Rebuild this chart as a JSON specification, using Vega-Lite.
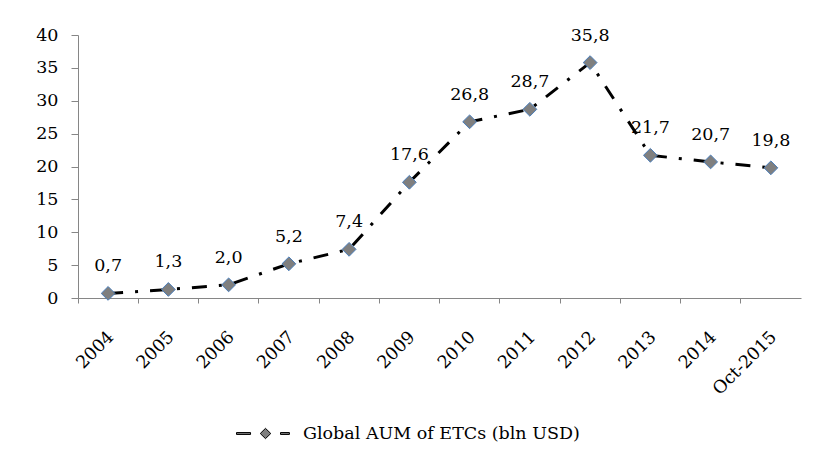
{
  "$schema": "https://vega.github.io/schema/vega-lite/v6.json",
  "width": 723,
  "height": 263,
  "autosize": {"type": "none"},
  "padding": {"left": 78, "top": 35, "right": 13, "bottom": 155},
  "background": "white",
  "config": {
    "view": {"stroke": null},
    "font": "DejaVu Serif",
    "locale": {"number": {"decimal": ",", "thousands": " ", "grouping": [3], "currency": ["", ""]}}
  },
  "data": {
    "values": [
      {"year": "2004", "aum": 0.7, "series": "Global AUM of ETCs (bln USD)"},
      {"year": "2005", "aum": 1.3, "series": "Global AUM of ETCs (bln USD)"},
      {"year": "2006", "aum": 2.0, "series": "Global AUM of ETCs (bln USD)"},
      {"year": "2007", "aum": 5.2, "series": "Global AUM of ETCs (bln USD)"},
      {"year": "2008", "aum": 7.4, "series": "Global AUM of ETCs (bln USD)"},
      {"year": "2009", "aum": 17.6, "series": "Global AUM of ETCs (bln USD)"},
      {"year": "2010", "aum": 26.8, "series": "Global AUM of ETCs (bln USD)"},
      {"year": "2011", "aum": 28.7, "series": "Global AUM of ETCs (bln USD)"},
      {"year": "2012", "aum": 35.8, "series": "Global AUM of ETCs (bln USD)"},
      {"year": "2013", "aum": 21.7, "series": "Global AUM of ETCs (bln USD)"},
      {"year": "2014", "aum": 20.7, "series": "Global AUM of ETCs (bln USD)"},
      {"year": "Oct-2015", "aum": 19.8, "series": "Global AUM of ETCs (bln USD)"}
    ]
  },
  "encoding": {
    "x": {
      "field": "year", "type": "ordinal", "sort": null,
      "scale": {"type": "band", "paddingInner": 0, "paddingOuter": 0},
      "axis": {
        "title": null, "bandPosition": 0, "labelOffset": 3, "labelAngle": -45,
        "labelAlign": "right", "labelBaseline": "middle", "labelPadding": 31,
        "labelFontSize": 17.5, "labelColor": "#000000", "labelFont": "DejaVu Serif",
        "tickSize": 5, "tickColor": "#868686", "domainColor": "#868686",
        "labelOverlap": false, "grid": false
      }
    },
    "y": {
      "field": "aum", "type": "quantitative",
      "scale": {"domain": [0, 40], "nice": false},
      "axis": {
        "title": null, "values": [0, 5, 10, 15, 20, 25, 30, 35, 40], "format": "d",
        "labelFontSize": 17.5, "labelColor": "#000000", "labelFont": "DejaVu Serif",
        "tickSize": 7, "labelPadding": 13, "tickColor": "#868686", "domainColor": "#868686",
        "grid": false
      }
    }
  },
  "layer": [
    {
      "mark": {"type": "line", "strokeWidth": 3, "strokeDash": [15, 12, 3, 12], "strokeCap": "butt"},
      "encoding": {
        "color": {
          "field": "series", "type": "nominal",
          "scale": {"range": ["#000000"]},
          "legend": {
            "orient": "none", "legendX": 158, "legendY": 371, "title": null,
            "symbolType": "M-1,-0.035L-0.48,-0.035L-0.48,0.035L-1,0.035ZM-0.12,0.0L0.074,-0.19L0.27,0L0.074,0.19ZM0.63,-0.035L0.96,-0.035L0.96,0.035L0.63,0.035Z",
            "symbolSize": 2916, "symbolStrokeWidth": 1, "symbolDash": [],
            "labelFontSize": 17.5, "labelFont": "DejaVu Serif",
            "labelColor": "#000000", "labelOffset": 12, "padding": 0, "labelLimit": 400,
            "encode": {
              "symbols": {
                "update": {
                  "fill": {"value": "#7f7f7f"},
                  "stroke": {"value": "#000000"},
                  "strokeWidth": {"value": 1},
                  "strokeDash": {"value": []},
                  "opacity": {"value": 1}
                }
              }
            }
          }
        }
      }
    },
    {
      "mark": {"type": "point", "shape": "diamond", "filled": true, "opacity": 1, "fill": "#7f7f7f", "stroke": "#4a7ebb", "strokeWidth": 1, "size": 190},
      "encoding": {}
    },
    {
      "mark": {"type": "text", "dy": -27, "fontSize": 17.5, "font": "DejaVu Serif", "color": "#000000"},
      "encoding": {"text": {"field": "aum", "type": "quantitative", "format": ".1f"}}
    }
  ]
}
